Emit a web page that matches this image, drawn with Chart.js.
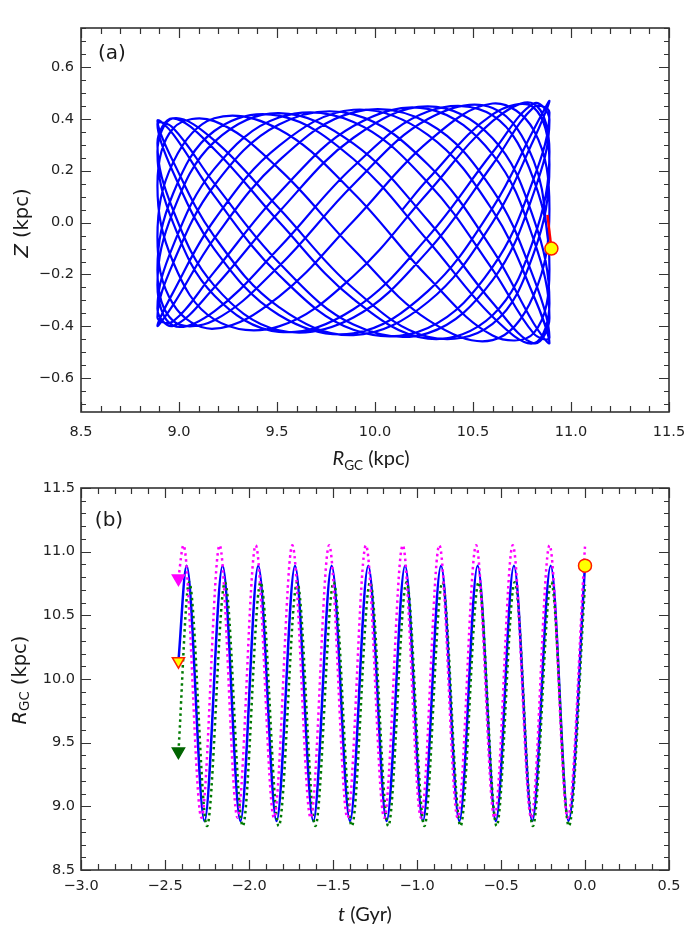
<!DOCTYPE html>
<html>
<head>
<meta charset="utf-8">
<script src="https://cdn.jsdelivr.net/npm/chart.js@4.4.0/dist/chart.umd.min.js"></script>
<style>
  body { margin: 0; background: #fff; }
  #page { position: relative; width: 699px; height: 935px; overflow: hidden; background: #fff; }
  canvas { position: absolute; left: 0; }
  .lbl { position: absolute; white-space: nowrap; color: #1a1a1a; transform: translate(-50%, -50%); }
  .rot { transform: translate(-50%, -50%) rotate(-90deg); }
  sub { font-size: 68%; vertical-align: -0.3em; font-style: normal; }
</style>
</head>
<body>
<div id="page">
  <canvas id="chartA" width="699" height="460" style="top:0"></canvas>
  <canvas id="chartB" width="699" height="475" style="top:460px"></canvas>

  <div class="lbl" style="left:112px; top:52px; font: 20px 'DejaVu Sans';">(a)</div>
  <div class="lbl" style="left:109px; top:519px; font: 20px 'DejaVu Sans';">(b)</div>

  <div class="lbl" style="left:371px; top:459px; font: 20px Lato, 'Open Sans', sans-serif;"><i>R</i><sub>GC</sub> (kpc)</div>
  <div class="lbl rot" style="left:21px; top:223px; font: 19.5px 'DejaVu Sans';"><i>Z</i> (kpc)</div>
  <div class="lbl rot" style="left:20px; top:680px; font: 19.5px 'DejaVu Sans';"><i>R</i><sub>GC</sub> (kpc)</div>
  <div class="lbl" style="left:365px; top:913px; font: 20px Lato, 'Open Sans', sans-serif;"><i>t</i> (Gyr)</div>
</div>

<script>
// ---- panel (a): orbit in the R-Z plane (kpc) ----
var orbitR = [
  10.89, 10.81, 10.60, 10.27, 9.89, 9.51, 9.18, 8.97,
  8.89, 8.97, 9.18, 9.51, 9.89, 10.27, 10.60, 10.81,
  10.89, 10.81, 10.60, 10.27, 9.89, 9.51, 9.18, 8.97,
  8.89, 8.97, 9.18, 9.51, 9.89, 10.27, 10.60, 10.81,
  10.89, 10.81, 10.60, 10.27, 9.89, 9.51, 9.18, 8.97,
  8.89, 8.97, 9.18, 9.51, 9.89, 10.27, 10.60, 10.81,
  10.89, 10.81, 10.60, 10.27, 9.89, 9.51, 9.18, 8.97,
  8.89, 8.97, 9.18, 9.51, 9.89, 10.27, 10.60, 10.81,
  10.89, 10.81, 10.60, 10.27, 9.89, 9.51, 9.18, 8.97,
  8.89, 8.97, 9.18, 9.51, 9.89, 10.27, 10.60, 10.81,
  10.89, 10.81, 10.60, 10.27, 9.89, 9.51, 9.18, 8.97,
  8.89, 8.97, 9.18, 9.51, 9.89, 10.27, 10.60, 10.81,
  10.89, 10.81, 10.60, 10.27, 9.89, 9.51, 9.18, 8.97,
  8.89, 8.97, 9.18, 9.51, 9.89, 10.27, 10.60, 10.81,
  10.89, 10.81, 10.60, 10.27, 9.89, 9.51, 9.18, 8.97,
  8.89, 8.97, 9.18, 9.51, 9.89, 10.27, 10.60, 10.81,
  10.89, 10.81, 10.60, 10.27, 9.89, 9.51, 9.18, 8.97,
  8.89, 8.97, 9.18, 9.51, 9.89, 10.27, 10.60, 10.81,
  10.89, 10.81, 10.60, 10.27, 9.89, 9.51, 9.18, 8.97,
  8.89, 8.97, 9.18, 9.51, 9.89, 10.27, 10.60, 10.81,
  10.89, 10.81, 10.60, 10.27, 9.89, 9.51, 9.18, 8.97,
  8.89, 8.97, 9.18, 9.51, 9.89, 10.27, 10.60, 10.81,
  10.89, 10.81, 10.60, 10.27, 10.14
];
var orbitZ = [
  -0.102, 0.238, 0.442, 0.399, 0.147, -0.168, -0.376, -0.379,
  -0.182, 0.112, 0.353, 0.412, 0.245, -0.070, -0.363, -0.465,
  -0.311, 0.014, 0.325, 0.448, 0.327, 0.041, -0.250, -0.398,
  -0.332, -0.089, 0.207, 0.405, 0.388, 0.154, -0.181, -0.428,
  -0.443, -0.214, 0.126, 0.384, 0.425, 0.239, -0.061, -0.317,
  -0.398, -0.269, 0.010, 0.296, 0.435, 0.338, 0.047, -0.283,
  -0.464, -0.389, -0.105, 0.224, 0.417, 0.378, 0.143, -0.156,
  -0.365, -0.381, -0.190, 0.113, 0.372, 0.438, 0.263, -0.067,
  -0.368, -0.465, -0.309, 0.008, 0.304, 0.422, 0.311, 0.043,
  -0.241, -0.397, -0.342, -0.098, 0.216, 0.428, 0.413, 0.165,
  -0.180, -0.426, -0.435, -0.210, 0.114, 0.360, 0.402, 0.232,
  -0.056, -0.314, -0.409, -0.285, 0.006, 0.311, 0.459, 0.356,
  0.053, -0.279, -0.453, -0.375, -0.103, 0.207, 0.391, 0.363,
  0.143, -0.152, -0.373, -0.400, -0.206, 0.115, 0.391, 0.458,
  0.273, -0.062, -0.357, -0.447, -0.295, 0.003, 0.283, 0.402,
  0.306, 0.048, -0.243, -0.415, -0.366, -0.109, 0.224, 0.445,
  0.424, 0.170, -0.171, -0.406, -0.413, -0.202, 0.103, 0.341,
  0.393, 0.236, -0.053, -0.326, -0.434, -0.306, 0.001, 0.320,
  0.469, 0.359, 0.057, -0.264, -0.427, -0.356, -0.102, 0.194,
  0.380, 0.365, 0.151, -0.155, -0.393, -0.426, -0.222, 0.115,
  0.396, 0.459, 0.271, -0.055, -0.334, -0.421, -0.281, -0.001,
  0.273, 0.402, 0.317, 0.055, -0.254, -0.440, -0.390, -0.118,
  0.224, 0.443, 0.417, 0.167, 0.050
];
var nowR = 10.9, nowZ = -0.1;          // present position (yellow circle)
var redR = [10.9, 10.88];               // short red segment
var redZ = [-0.1, 0.03];

var xTicksA = [8.5, 9.0, 9.5, 10.0, 10.5, 11.0, 11.5];
var yTicksA = [-0.6, -0.4, -0.2, 0.0, 0.2, 0.4, 0.6];

// ---- panel (b): R_GC against time (Gyr) ----
var tBlue = [-2.42, -2.371, -2.265, -2.157, -2.051, -1.945, -1.836, -1.726, -1.617, -1.508, -1.399, -1.290,
  -1.181, -1.071, -0.965, -0.857, -0.748, -0.639, -0.531, -0.423, -0.314, -0.204, -0.098, 0.0];
var rBlue = [10.14, 10.89, 8.885, 10.89, 8.885, 10.89, 8.885, 10.89, 8.885, 10.89, 8.885, 10.89,
  8.885, 10.89, 8.885, 10.89, 8.885, 10.89, 8.885, 10.89, 8.885, 10.89, 8.885, 10.89];

var tMagenta = [-2.42, -2.39, -2.283, -2.175, -2.068, -1.96, -1.851, -1.742, -1.633, -1.523, -1.414, -1.304,
  -1.195, -1.085, -0.976, -0.867, -0.758, -0.648, -0.539, -0.43, -0.32, -0.211, -0.103, 0.0];
var rMagenta = [10.79, 11.05, 8.91, 11.05, 8.91, 11.05, 8.91, 11.05, 8.91, 11.05, 8.91, 11.05,
  8.91, 11.05, 8.91, 11.05, 8.91, 11.05, 8.91, 11.05, 8.91, 11.05, 8.91, 11.04];

var tGreen = [-2.42, -2.356, -2.250, -2.143, -2.037, -1.931, -1.823, -1.713, -1.605, -1.496, -1.388, -1.279,
  -1.171, -1.062, -0.956, -0.849, -0.741, -0.633, -0.526, -0.418, -0.31, -0.201, -0.096, 0.0];
var rGreen = [9.43, 10.76, 8.845, 10.76, 8.845, 10.76, 8.845, 10.76, 8.845, 10.76, 8.845, 10.76,
  8.845, 10.76, 8.845, 10.76, 8.845, 10.76, 8.845, 10.76, 8.845, 10.76, 8.845, 10.74];

var startT = -2.42;                     // where the three integrations stop
var nowT = 0.0;

var xTicksB = [-3.0, -2.5, -2.0, -1.5, -1.0, -0.5, 0.0, 0.5];
var yTicksB = [8.5, 9.0, 9.5, 10.0, 10.5, 11.0, 11.5];

// ---- helpers ----
function pts(xs, ys) {
  return xs.map(function (x, i) { return { x: x, y: ys[i] }; });
}
function fmt(v) {
  return v.toFixed(1).replace('-', '\u2212');
}
function marks(min, max, step) {
  var out = [];
  for (var i = Math.ceil(min / step - 1e-6); i * step <= max + 1e-6; i++) out.push(i * step);
  return out;
}
function isMajor(v, major) {
  var r = v / major;
  return Math.abs(r - Math.round(r)) < 1e-6;
}

// frame box plus inward major/minor ticks on all four sides
var frameTicks = {
  id: 'frameTicks',
  afterDraw: function (chart, args, o) {
    var ctx = chart.ctx, a = chart.chartArea;
    var sx = chart.scales.x, sy = chart.scales.y;
    ctx.save();
    ctx.strokeStyle = '#333';
    ctx.lineWidth = 1.2;
    ctx.beginPath();
    marks(sx.min, sx.max, o.xMinor).forEach(function (v) {
      var px = Math.round(sx.getPixelForValue(v)) + 0.5;
      var len = isMajor(v, o.xMajor) ? 10 : 6;
      ctx.moveTo(px, a.bottom); ctx.lineTo(px, a.bottom - len);
      ctx.moveTo(px, a.top); ctx.lineTo(px, a.top + len);
    });
    marks(sy.min, sy.max, o.yMinor).forEach(function (v) {
      var py = Math.round(sy.getPixelForValue(v)) + 0.5;
      var len = isMajor(v, o.yMajor) ? 10 : 5;
      ctx.moveTo(a.left, py); ctx.lineTo(a.left + len, py);
      ctx.moveTo(a.right, py); ctx.lineTo(a.right - len, py);
    });
    ctx.stroke();
    ctx.lineWidth = 1.6;
    ctx.strokeRect(a.left, a.top, a.right - a.left, a.bottom - a.top);
    ctx.restore();
  }
};

var tickFont = { family: 'DejaVu Sans', size: 14.5 };

function axis(min, max, ticks, fitKey, fitVal, pad) {
  return {
    type: 'linear',
    min: min,
    max: max,
    afterBuildTicks: function (s) { s.ticks = ticks.map(function (v) { return { value: v }; }); },
    afterFit: function (s) { s[fitKey] = fitVal; },
    ticks: { color: '#222', font: tickFont, padding: pad, maxRotation: 0, autoSkip: false,
      callback: function (v) { return fmt(v); } },
    grid: { display: false, drawTicks: false },
    border: { display: false }
  };
}

// ---- chart (a) ----
new Chart(document.getElementById('chartA'), {
  type: 'line',
  data: {
    datasets: [
      {
        data: [{ x: nowR, y: nowZ }],
        showLine: false,
        pointRadius: 6.5,
        pointBackgroundColor: '#ffff00',
        pointBorderColor: '#ff1a00',
        pointBorderWidth: 1.5,
        order: 0
      },
      {
        data: pts(redR, redZ),
        borderColor: '#ff0000',
        borderWidth: 2.5,
        pointRadius: 0,
        order: 1
      },
      {
        data: pts(orbitR, orbitZ),
        borderColor: '#0000ff',
        borderWidth: 2.2,
        pointRadius: 0,
        tension: 0.38,
        order: 2
      }
    ]
  },
  options: {
    responsive: false,
    animation: false,
    events: [],
    layout: { padding: { top: 28, right: 30, left: 0, bottom: 0 } },
    plugins: {
      legend: { display: false },
      tooltip: { enabled: false },
      frameTicks: { xMajor: 0.5, xMinor: 0.1, yMajor: 0.2, yMinor: 0.05 }
    },
    scales: {
      x: axis(8.5, 11.5, xTicksA, 'height', 48, 12),
      y: axis(-0.73, 0.75, yTicksA, 'width', 81, 7)
    }
  },
  plugins: [frameTicks]
});

// ---- chart (b) ----
function tri(x, y, fill, edge) {
  return {
    data: [{ x: x, y: y }],
    showLine: false,
    pointStyle: 'triangle',
    rotation: 180,
    pointRadius: 7,
    pointBackgroundColor: fill,
    pointBorderColor: edge,
    pointBorderWidth: 1.5,
    order: 0
  };
}

new Chart(document.getElementById('chartB'), {
  type: 'line',
  data: {
    datasets: [
      tri(startT, rMagenta[0], '#ff00ff', '#ff00ff'),
      tri(startT, rBlue[0], '#ffff00', '#ff2000'),
      tri(startT, rGreen[0], '#006400', '#006400'),
      {
        data: [{ x: nowT, y: rBlue[rBlue.length - 1] }],
        showLine: false,
        pointRadius: 6.5,
        pointBackgroundColor: '#ffff00',
        pointBorderColor: '#ff1a00',
        pointBorderWidth: 1.5,
        order: 0
      },
      {
        data: pts(tMagenta, rMagenta),
        borderColor: '#ff00ff',
        borderWidth: 2.5,
        borderDash: [2.5, 3.5],
        cubicInterpolationMode: 'monotone',
        pointRadius: 0,
        order: 1
      },
      {
        data: pts(tGreen, rGreen),
        borderColor: '#007a00',
        borderWidth: 2.5,
        borderDash: [2.5, 3.5],
        cubicInterpolationMode: 'monotone',
        pointRadius: 0,
        order: 1
      },
      {
        data: pts(tBlue, rBlue),
        borderColor: '#0000ff',
        borderWidth: 2.5,
        cubicInterpolationMode: 'monotone',
        pointRadius: 0,
        order: 2
      }
    ]
  },
  options: {
    responsive: false,
    animation: false,
    events: [],
    layout: { padding: { top: 28, right: 30, left: 0, bottom: 0 } },
    plugins: {
      legend: { display: false },
      tooltip: { enabled: false },
      frameTicks: { xMajor: 0.5, xMinor: 0.1, yMajor: 0.5, yMinor: 0.1 }
    },
    scales: {
      x: axis(-3.0, 0.5, xTicksB, 'height', 65, 8),
      y: axis(8.5, 11.5, yTicksB, 'width', 81, 6)
    }
  },
  plugins: [frameTicks]
});
</script>
</body>
</html>
